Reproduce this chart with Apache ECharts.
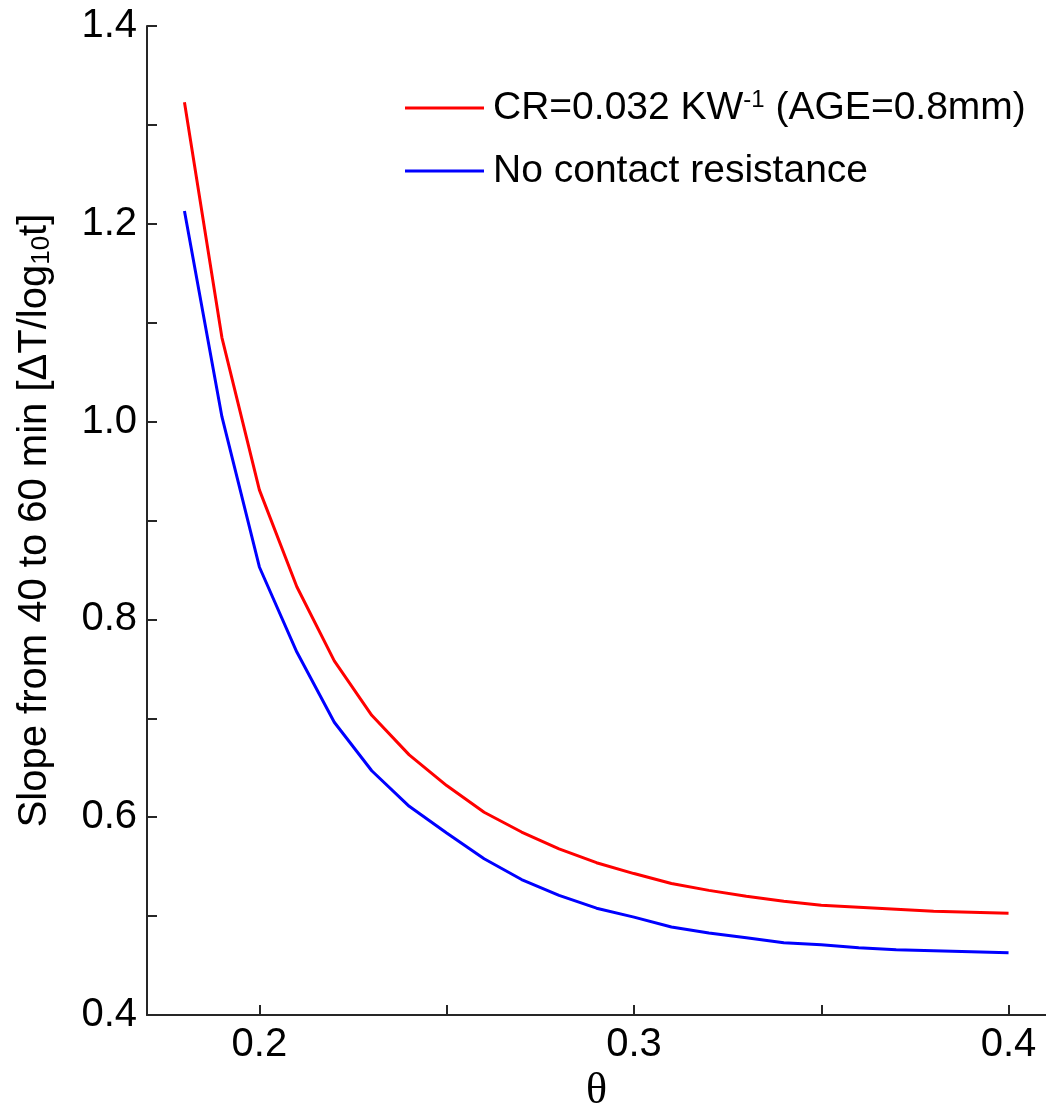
<!DOCTYPE html>
<html>
<head>
<meta charset="utf-8">
<script src="https://cdn.jsdelivr.net/npm/echarts@6/dist/echarts.min.js"></script>
<style>html,body{margin:0;padding:0;background:#fff}#c{width:1046px;height:1110px}</style>
</head>
<body>
<div id="c"></div>
<script>
const theta = [0.18,0.19,0.20,0.21,0.22,0.23,0.24,0.25,0.26,0.27,0.28,0.29,0.30,0.31,0.32,0.33,0.34,0.35,0.36,0.37,0.38,0.39,0.40];
const slopeCR = [1.323,1.085,0.931,0.833,0.758,0.703,0.663,0.632,0.605,0.585,0.568,0.554,0.543,0.533,0.526,0.520,0.515,0.511,0.509,0.507,0.505,0.504,0.503];
const slopeNoCR = [1.213,1.005,0.853,0.767,0.696,0.647,0.611,0.584,0.558,0.537,0.521,0.508,0.499,0.489,0.483,0.478,0.473,0.471,0.468,0.466,0.465,0.464,0.463];
const xTicks = [0.2,0.25,0.3,0.35,0.4];
const xLabels = [0.2,0.3,0.4];
const yLabels = [0.4,0.6,0.8,1.0,1.2,1.4];
const seriesNames = ['CR', 'NoCR'];

const font = 'Liberation Sans, Arial, sans-serif';
const axisColor = '#262626';

const chart = echarts.init(document.getElementById('c'));
chart.setOption({
  animation: false,
  backgroundColor: '#fff',
  grid: {left: 147, right: 0, top: 26, bottom: 95, containLabel: false, outerBoundsMode: 'none'},
  legend: {
    orient: 'vertical',
    left: 400,
    top: 83,
    itemWidth: 79,
    itemHeight: 3,
    itemGap: 23,
    icon: 'rect',
    data: seriesNames,
    formatter: function (n) {
      return n === 'CR' ? 'CR=0.032 KW{sup|-1} (AGE=0.8mm)' : 'No contact resistance';
    },
    textStyle: {
      fontFamily: font, fontSize: 39, color: '#000', lineHeight: 40,
      padding: [0, 0, 0, 4],
      rich: {
        sup: {fontFamily: font, fontSize: 24, color: '#000', verticalAlign: 'top', lineHeight: 32}
      }
    }
  },
  xAxis: {
    type: 'value', min: 0.17, max: 0.41,
    name: 'θ', nameLocation: 'middle', nameGap: 52,
    nameTextStyle: {fontFamily: 'Liberation Serif, serif', fontSize: 44, color: '#000'},
    axisLine: {show: true, onZero: false, lineStyle: {color: axisColor, width: 2}},
    axisTick: {show: true, inside: true, length: 10, customValues: xTicks, lineStyle: {color: axisColor, width: 2}},
    axisLabel: {customValues: xLabels, fontFamily: font, fontSize: 40, color: '#000', margin: 10,
      formatter: v => v.toFixed(1)},
    splitLine: {show: false}
  },
  yAxis: {
    type: 'value', min: 0.4, max: 1.4, interval: 0.1,
    name: 'Slope from 40 to 60 min [ΔT/log{sub|10}t]', nameLocation: 'middle', nameGap: 92, nameRotate: 90,
    nameTextStyle: {fontFamily: font, fontSize: 40, color: '#000',
      rich: {sub: {fontFamily: font, fontSize: 26, color: '#000', verticalAlign: 'bottom', lineHeight: 26}}},
    axisLine: {show: true, onZero: false, lineStyle: {color: axisColor, width: 2}},
    axisTick: {show: true, inside: true, length: 10, lineStyle: {color: axisColor, width: 2}},
    axisLabel: {customValues: yLabels, fontFamily: font, fontSize: 40, color: '#000', margin: 10,
      formatter: v => v.toFixed(1)},
    splitLine: {show: false}
  },
  series: [
    {name: 'CR', type: 'line', data: theta.map((t, i) => [t, slopeCR[i]]),
      showSymbol: false, lineStyle: {color: '#ff0000', width: 3}, itemStyle: {color: '#ff0000'}},
    {name: 'NoCR', type: 'line', data: theta.map((t, i) => [t, slopeNoCR[i]]),
      showSymbol: false, lineStyle: {color: '#0000ff', width: 3}, itemStyle: {color: '#0000ff'}}
  ]
});
</script>
</body>
</html>
